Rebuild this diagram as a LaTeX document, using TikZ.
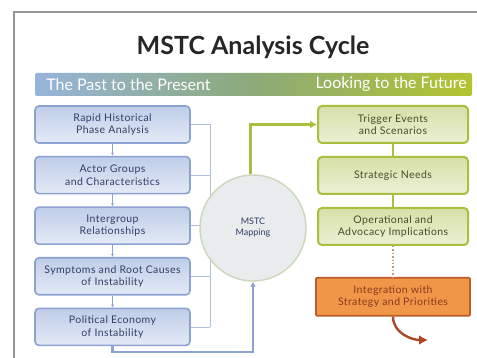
\documentclass[tikz,border=0pt]{standalone}
\usepackage{fontspec}
\setmainfont{Lato}
\newfontfamily\boxfont[LetterSpace=4]{Lato}
\usetikzlibrary{positioning,arrows.meta}
\definecolor{CycFrame}{RGB}{150,150,150}
\definecolor{CycPast}{RGB}{140,162,208}
\definecolor{CycPastFill}{RGB}{190,205,232}
\definecolor{CycPastSoft}{RGB}{228,234,246}
\definecolor{CycPastText}{RGB}{52,62,104}
\definecolor{CycFuture}{RGB}{172,190,62}
\definecolor{CycFutureFill}{RGB}{214,224,168}
\definecolor{CycFutureSoft}{RGB}{236,240,212}
\definecolor{CycFutureText}{RGB}{70,78,40}
\definecolor{CycMap}{RGB}{232,236,236}
\definecolor{CycMapEdge}{RGB}{205,214,188}
\definecolor{CycOrange}{RGB}{240,150,72}
\definecolor{CycOrangeEdge}{RGB}{188,92,38}
\definecolor{CycRust}{RGB}{172,72,40}
\definecolor{CycBarBlue}{RGB}{150,180,218}
\definecolor{CycBarMid}{RGB}{140,170,120}
\definecolor{CycBarGreen}{RGB}{178,196,48}
\tikzset{
  cyc box/.style={
    rounded corners=4pt,
    align=center,
    font=\boxfont\fontsize{10.5}{12.5}\selectfont,
    inner sep=2pt,
    minimum height=37pt
  },
  cyc past/.style={cyc box, draw=CycPast, line width=1.6pt, top color=CycPastFill,
    bottom color=CycPastSoft, text=CycPastText, minimum width=155pt},
  cyc future/.style={cyc box, draw=CycFuture, line width=2pt, top color=CycFutureFill,
    bottom color=CycFutureSoft, text=CycFutureText, minimum width=150pt},
  cyc final/.style={cyc box, rounded corners=1pt, draw=CycOrangeEdge, line width=1.6pt,
    fill=CycOrange, text=CycRust!80!black, minimum width=154pt, minimum height=38pt},
  cyc map/.style={circle, draw=CycMapEdge, line width=1.4pt, fill=CycMap,
    minimum size=106pt, align=center, text=CycPastText, font=\fontsize{9}{11}\selectfont},
  past link/.style={-{Latex[length=3pt,width=3pt]}, CycPast, line width=0.8pt},
  future link/.style={CycFuture, line width=1.6pt},
  spine line/.style={CycPast!70, line width=0.7pt},
  past flow/.style={-{Latex[length=5pt,width=6pt]}, CycPast, line width=2.6pt},
  future flow/.style={-{Latex[length=7pt,width=8pt]}, CycFuture, line width=3pt},
  out flow/.style={-{Latex[length=9pt,width=10pt]}, CycRust, line width=2.4pt},
  era label/.style={text=white, font=\fontsize{16}{18}\selectfont}
}
\begin{document}
\begin{tikzpicture}[x=1pt,y=-1pt,node distance=12pt and 12pt]
\useasboundingbox (0,0) rectangle (477,358);
\fill[white] (0,0) rectangle (477,358);
% panel edge
\draw[CycFrame, line width=2pt] (14,358) -- (14,12) -- (480,12);

\node[font=\fontsize{25}{29}\selectfont\bfseries, text=black!85] (title) at (253,47) {MSTC Analysis Cycle};

% era banner
\node[minimum width=437pt, minimum height=23pt, inner sep=0pt, rounded corners=2pt,
  left color=CycBarBlue, right color=CycBarGreen, middle color=CycBarMid] (era) at (253.5,84.5) {};
\node[era label, anchor=west] (past) at ([xshift=8pt]era.west) {The Past to the Present};
\node[era label, anchor=east] (future) at ([xshift=-2pt]era.east) {Looking to the Future};

% past column
\node[cyc past] (rh) at (112.5,124.5) {Rapid Historical\\Phase Analysis};
\node[cyc past, below=of rh] (ag) {Actor Groups\\and Characteristics};
\node[cyc past, below=of ag] (ir) {Intergroup\\Relationships};
\node[cyc past, below=of ir] (sr) {Symptoms and Root Causes\\of Instability};
\node[cyc past, below=of sr] (pe) {Political Economy\\of Instability};

\draw[past link] (rh) -- (ag);
\draw[past link] (ag) -- (ir);
\draw[past link] (ir) -- (sr);
\draw[past link] (sr) -- (pe);

% spine feeding the mapping
\coordinate (spine) at (210,0);
\foreach \b in {rh,ag,ir,sr,pe}
  \draw[spine line] (\b.east) -- (\b.east -| spine);
\draw[spine line] (rh.east -| spine) -- (pe.east -| spine);

\node[cyc map] (map) at (253,228) {MSTC\\Mapping};

\coordinate (loop) at (253,352);
\draw[past flow] (pe.south) |- (loop) -- (map.south);

% future column
\node[cyc future] (te) at (393,124.5) {Trigger Events\\and Scenarios};
\node[cyc future, below=of te] (sn) {Strategic Needs};
\node[cyc future, below=of sn] (oa) {Operational and\\Advocacy Implications};
\node[cyc final, below=31pt of oa] (ip) {Integration with\\Strategy and Priorities};

\draw[future flow] ([xshift=-3pt]map.north) |- (te.west);
\draw[future link] (te) -- (sn);
\draw[future link] (sn) -- (oa);
\draw[CycRust!60, line width=1.4pt, dotted] (oa) -- (ip);

\coordinate (out) at (428,340);
\draw[out flow] (ip.south) to[out=-90,in=180] (out);
\end{tikzpicture}
\end{document}
